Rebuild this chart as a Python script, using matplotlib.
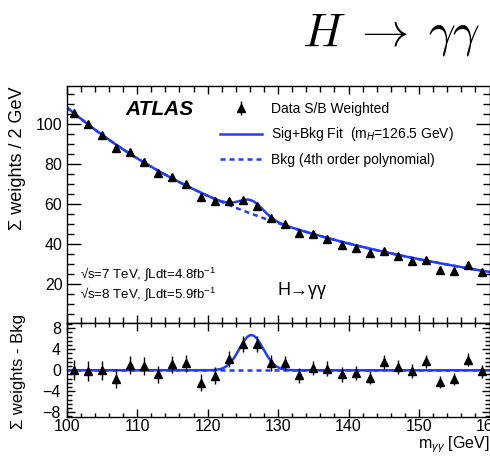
import matplotlib
matplotlib.use("Agg")
import matplotlib.pyplot as plt
from matplotlib.ticker import MultipleLocator
import numpy as np

plt.rcParams["font.family"] = ["Liberation Sans", "DejaVu Sans"]
plt.rcParams["mathtext.fontset"] = "custom"
plt.rcParams["mathtext.rm"] = "Liberation Sans"
plt.rcParams["mathtext.it"] = "Liberation Sans:italic"

# binned data (2 GeV bins)
mass = np.arange(101, 160, 2)
weights = [105.5, 100.0, 94.6, 88.0, 86.0, 81.3, 75.8, 73.8, 70.2, 63.5,
           61.8, 61.8, 62.0, 59.2, 53.0, 50.2, 45.8, 45.0, 42.7, 39.7,
           38.0, 35.5, 36.7, 34.3, 31.8, 32.2, 27.2, 26.7, 29.7, 26.3]
resid = [0.0, -0.1, 0.0, -1.6, 1.0, 0.8, -0.8, 1.1, 1.3, -2.4,
         -1.0, 2.1, 5.0, 5.0, 1.4, 1.4, -0.95, 0.45, 0.3, -0.75,
         -0.5, -1.4, 1.6, 0.65, -0.2, 1.7, -2.2, -1.7, 2.0, -0.2]
errors = [1.9, 1.9, 1.8, 1.8, 1.7, 1.7, 1.7, 1.6, 1.6, 1.6,
          1.6, 1.5, 1.5, 1.5, 1.5, 1.4, 1.4, 1.4, 1.4, 1.4,
          1.3, 1.3, 1.3, 1.3, 1.3, 1.3, 1.2, 1.2, 1.2, 1.2]

# background curve, fitted with a 4th order polynomial
bkg_x = [100, 110, 120, 130, 140, 150, 160]
bkg_y = [108.5, 83.5, 63.5, 51.0, 40.5, 32.3, 26.2]
sig_mass = 126.2
sig_width = 1.7
sig_amp = 6.7

blue = "#1f3cff"
xx = np.linspace(100, 160, 400)
bkg = np.polyval(np.polyfit(bkg_x, bkg_y, 4), xx)
sig = sig_amp * np.exp(-0.5 * ((xx - sig_mass) / sig_width) ** 2)

fig = plt.figure(figsize=(4.9, 4.57), dpi=100)
ax1 = fig.add_axes([0.136, 0.2932, 0.863, 0.5186])
ax2 = fig.add_axes([0.136, 0.0882, 0.863, 0.2050], sharex=ax1)

dash = (0, (2.0, 1.6))
l_bkg, = ax1.plot(xx, bkg, color=blue, lw=1.8, ls=dash)
l_fit, = ax1.plot(xx, bkg + sig, color=blue, lw=1.8)
eb = ax1.errorbar(mass, weights, yerr=errors, fmt="^", color="black",
                  ms=6, elinewidth=1, capsize=0, zorder=5)

ax2.plot(xx, np.zeros_like(xx), color=blue, lw=1.8, ls=dash)
ax2.plot(xx, sig, color=blue, lw=1.8)
ax2.errorbar(mass, resid, yerr=errors, fmt="^", color="black",
             ms=6, elinewidth=1, capsize=0, zorder=5)

ax1.set_xlim(100, 160)
ax1.set_ylim(0.6, 119.2)
ax2.set_ylim(-8.84, 9.0)

ax1.xaxis.set_major_locator(MultipleLocator(10))
ax1.xaxis.set_minor_locator(MultipleLocator(2))
ax1.yaxis.set_major_locator(MultipleLocator(20))
ax1.yaxis.set_minor_locator(MultipleLocator(5))
ax1.set_yticks([20, 40, 60, 80, 100])
ax2.set_yticks([-8, -4, 0, 4, 8])
ax2.yaxis.set_minor_locator(MultipleLocator(0.8))

for ax in (ax1, ax2):
    for s in ax.spines.values():
        s.set_linewidth(1.0)
    ax.tick_params(which="both", direction="in", top=True, right=True,
                   labelsize=11.5, width=1.0)
ax1.tick_params(axis="y", which="major", length=10, pad=3)
ax1.tick_params(axis="y", which="minor", length=5)
ax1.tick_params(axis="x", which="major", length=6)
ax1.tick_params(axis="x", which="minor", length=4)
ax1.tick_params(axis="x", labelbottom=False)
ax2.tick_params(axis="y", which="major", length=6, pad=4)
ax2.tick_params(axis="y", which="minor", length=3.5)
ax2.tick_params(axis="x", which="major", length=6, pad=2)
ax2.tick_params(axis="x", which="minor", length=3)

ax1.set_ylabel("Σ weights / 2 GeV", fontsize=13, loc="top")
ax1.yaxis.set_label_coords(-0.097, 1.0)
ax2.set_ylabel("Σ weights - Bkg", fontsize=12, loc="top")
ax2.yaxis.set_label_coords(-0.097, 1.10)
ax2.set_xlabel(r"m$_{\gamma\gamma}$ [GeV]", fontsize=11.5, loc="right")
ax2.xaxis.set_label_coords(1.0, -0.19)

ax1.text(108.4, 107.2, "ATLAS", fontsize=15, fontweight="bold",
         fontstyle="italic", va="center")
ax1.text(101.9, 25.2, r"√s=7 TeV, $\int$Ldt=4.8fb$^{-1}$", fontsize=9.5,
         va="center")
ax1.text(101.9, 15.2, r"√s=8 TeV, $\int$Ldt=5.9fb$^{-1}$", fontsize=9.5,
         va="center")
ax1.text(129.9, 16.8, "H→γγ", fontsize=13, va="center")

ax1.legend([eb, l_fit, l_bkg],
           ["Data S/B Weighted", r"Sig+Bkg Fit  (m$_{H}$=126.5 GeV)",
            "Bkg (4th order polynomial)"],
           loc="upper left", bbox_to_anchor=(0.3625, 0.934), frameon=False,
           fontsize=10, handlelength=3.0, handletextpad=0.65,
           labelspacing=0.7, borderpad=0, borderaxespad=0)

fig.text(0.798, 0.90, r"$H\;\rightarrow\;\gamma\gamma$", fontsize=34,
         ha="center", va="baseline", math_fontfamily="cm")

fig.savefig("out.png", dpi=100)
